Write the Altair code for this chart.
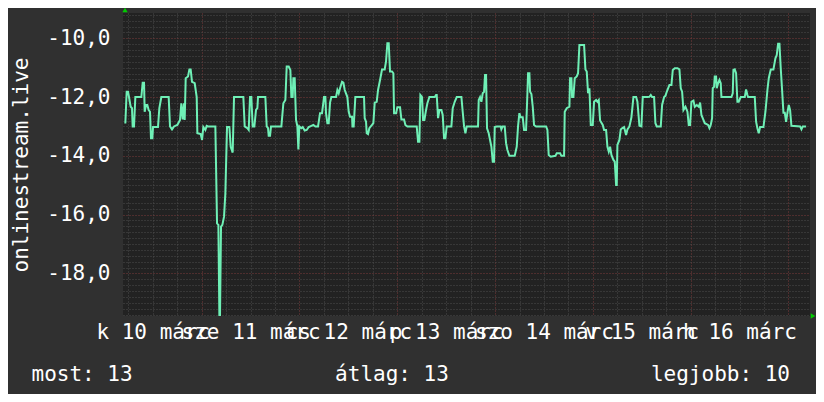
import altair as alt
import pandas as pd

# (hours since 10 March 00:00, rank shown negative)
seg_tue = [(5.25, -12.9), (5.58, -11.82), (5.91, -11.82), (6.15, -12.0), (6.56, -12.33), (6.89, -12.38),
           (7.05, -13.0), (7.38, -13.0), (7.71, -12.0), (9.18, -12.0), (9.51, -11.51), (9.84, -11.51),
           (10.0, -12.5), (10.33, -12.27), (10.65, -12.27), (10.98, -12.44), (11.31, -12.5), (11.55, -13.4),
           (11.88, -13.4), (12.05, -13.02), (13.27, -13.02), (13.6, -12.38), (14.09, -12.0), (15.89, -12.0),
           (16.22, -13.0), (16.71, -13.1), (17.2, -13.0), (18.02, -12.95), (18.67, -12.78), (19.0, -12.21),
           (19.33, -12.76), (19.66, -12.21), (19.82, -12.78), (20.07, -11.36), (20.64, -11.3), (20.97, -11.06),
           (21.29, -11.06), (21.62, -11.48), (22.28, -11.53), (22.77, -12.0), (22.93, -13.23), (23.75, -13.26),
           (24.08, -13.46), (24.40, -13.02), (24.89, -13.12), (25.22, -12.98), (25.55, -13.0), (27.35, -13.0),
           (27.76, -16.3), (28.09, -16.35), (28.33, -19.42), (28.49, -19.42), (28.74, -16.41), (29.07, -16.35),
           (29.48, -16.07), (29.80, -15.28), (30.21, -13.02), (30.79, -13.02), (31.11, -13.69), (31.60, -13.89),
           (31.93, -12.0)]
seg_wed = [(34.22, -12.0), (34.55, -13.0), (35.20, -13.06), (35.53, -13.12), (35.86, -12.0), (36.18, -12.0),
           (36.51, -13.0), (36.92, -13.0), (37.33, -12.44), (37.66, -12.38), (37.82, -12.0), (39.62, -12.0),
           (39.95, -13.0), (40.28, -13.06), (40.44, -13.32), (40.77, -13.32), (41.01, -13.0), (43.55, -13.0),
           (44.04, -12.21), (44.53, -12.1), (44.86, -10.96), (45.35, -10.96), (45.76, -11.08), (46.0, -12.0),
           (46.33, -12.0), (46.49, -11.36), (46.82, -11.36), (47.15, -12.78), (47.48, -13.0), (47.72, -13.78),
           (47.97, -13.0), (48.46, -13.06), (48.79, -13.02), (49.28, -13.14), (49.77, -13.12), (50.26, -13.02),
           (50.91, -12.98), (51.40, -12.95), (51.90, -13.0), (52.55, -13.0), (53.04, -12.55), (53.53, -12.55),
           (54.02, -12.0), (54.35, -12.0), (54.51, -12.55), (54.84, -12.89), (55.17, -12.89), (55.50, -12.19),
           (55.82, -12.0), (56.97, -12.0), (57.30, -11.76), (57.62, -11.87), (57.95, -11.7), (58.44, -11.48),
           (58.77, -11.51), (59.10, -11.76), (59.75, -12.0), (60.08, -12.5), (60.41, -12.67), (60.90, -12.67),
           (61.0, -13.0), (61.3, -13.0)]
seg_thu = [(61.71, -12.0), (63.84, -12.0), (64.0, -12.72), (64.33, -12.84), (64.50, -13.23), (64.82, -13.26),
           (65.15, -13.06), (65.80, -12.95), (66.13, -12.89), (66.46, -12.19), (66.95, -12.16), (67.28, -11.76),
           (67.77, -11.42), (67.93, -11.3), (68.26, -11.06), (68.91, -11.06), (69.24, -10.79), (69.57, -10.17),
           (69.90, -10.17), (70.22, -11.13), (70.71, -11.13), (71.04, -11.19), (71.21, -12.55), (71.70, -12.55),
           (72.02, -12.35), (72.68, -12.35), (73.01, -12.76), (73.66, -12.76), (73.99, -12.95), (74.48, -13.0),
           (76.77, -13.0), (77.10, -13.52), (77.43, -13.52), (77.67, -11.93), (78.08, -12.0), (78.33, -12.78),
           (78.65, -12.78), (79.06, -12.44), (79.39, -12.21), (79.88, -12.0), (81.19, -12.0), (81.52, -11.93),
           (81.68, -11.93), (82.01, -12.72), (82.34, -12.44), (82.83, -12.44), (83.15, -12.61), (83.48, -13.4),
           (83.81, -13.4), (84.14, -13.0), (85.28, -13.0), (85.61, -12.38), (86.10, -12.16), (86.59, -12.0),
           (87.74, -12.0), (88.06, -12.5), (88.39, -13.0), (88.72, -13.23), (89.04, -13.0)]
seg_fri = [(91.82, -13.0), (91.99, -12.1), (92.32, -12.0), (92.64, -12.16), (92.97, -11.87), (93.30, -11.82),
           (93.54, -11.25), (93.79, -11.25), (94.03, -13.06), (94.44, -13.23), (94.77, -13.46), (95.10, -13.69),
           (95.43, -14.2), (95.75, -14.2), (95.92, -13.02), (96.41, -13.0), (97.39, -13.0), (97.55, -13.1),
           (97.88, -13.0), (98.37, -13.0), (98.70, -13.57), (99.03, -13.8), (99.52, -14.0), (100.83, -14.0),
           (101.32, -13.69), (101.64, -13.0), (101.97, -12.55), (102.30, -12.69), (102.79, -12.69), (103.12, -13.12),
           (103.61, -13.12), (103.94, -11.87), (104.10, -11.19), (104.43, -11.19), (104.59, -11.82), (104.92, -11.9),
           (105.25, -12.33), (105.57, -12.95), (106.06, -13.0), (108.52, -13.0), (108.85, -13.12), (109.17, -13.97),
           (109.66, -14.03), (110.81, -14.0), (111.14, -13.91), (111.96, -13.91), (112.28, -14.0), (112.94, -14.0),
           (113.10, -12.5), (113.59, -12.38), (114.25, -12.33), (114.41, -11.36), (114.74, -11.36), (114.90, -12.0),
           (115.23, -12.0), (115.56, -11.36), (116.05, -11.3), (116.37, -11.19), (116.70, -10.23), (117.85, -10.23)]
seg_sat = [(118.18, -11.06), (118.50, -11.13), (118.83, -11.87), (119.16, -11.7), (119.49, -12.95), (119.98, -12.95),
           (120.30, -12.16), (120.80, -12.1), (121.12, -12.16), (121.45, -12.1), (121.78, -12.8), (122.43, -12.95),
           (122.76, -13.12), (123.25, -13.12), (123.58, -13.69), (123.91, -13.86), (124.23, -13.69), (124.56, -13.97),
           (125.05, -14.14), (125.38, -14.2), (125.71, -14.99), (125.87, -14.99), (126.03, -13.63), (126.52, -13.46),
           (126.85, -13.1), (127.18, -13.06), (127.67, -13.02), (128.16, -13.29), (128.49, -13.1), (128.98, -13.0),
           (129.47, -12.69), (129.96, -12.0), (130.62, -12.0), (130.94, -12.16), (131.43, -12.98), (131.92, -13.0),
           (132.25, -12.0), (133.40, -12.0), (133.89, -11.99), (134.22, -11.93), (134.54, -12.0), (135.03, -12.0),
           (135.36, -12.89), (135.69, -13.0), (136.67, -13.0), (137.0, -12.27), (137.49, -12.0), (137.82, -11.96),
           (138.14, -11.82), (138.80, -11.59), (139.29, -11.59), (139.62, -11.08), (140.11, -11.02), (140.76, -11.02),
           (141.25, -11.06), (141.58, -11.7), (141.91, -11.82), (142.24, -12.44), (142.73, -12.33), (143.22, -12.5),
           (143.54, -12.95), (143.87, -12.95), (144.20, -12.16), (144.69, -12.12), (145.02, -12.33), (145.51, -12.27),
           (146.0, -12.33), (146.33, -12.19), (146.65, -12.61)]
seg_sun = [(146.97, -12.72), (147.47, -12.89), (148.28, -12.95), (148.61, -13.06), (148.94, -12.95), (149.27, -12.72),
           (149.43, -11.7), (149.76, -11.65), (149.92, -11.3), (150.25, -11.3), (150.41, -11.7), (150.74, -11.53),
           (151.07, -11.42), (151.39, -11.53), (151.56, -12.0), (154.01, -12.0), (154.34, -11.87), (154.50, -11.08),
           (154.83, -11.06), (155.16, -11.19), (155.48, -12.16), (155.81, -12.16), (155.98, -12.1), (156.30, -12.0),
           (157.29, -12.0), (157.61, -11.74), (157.94, -11.93), (158.10, -12.0), (159.74, -12.0), (160.07, -12.84),
           (160.39, -13.06), (160.72, -13.23), (161.05, -13.02), (161.87, -13.02), (162.36, -12.5), (162.85, -11.76),
           (163.18, -11.36), (163.67, -11.06), (164.32, -11.06), (164.81, -10.68), (165.14, -10.57), (165.47, -10.19),
           (165.80, -10.19), (166.12, -11.02), (166.45, -11.76), (166.78, -12.53), (167.11, -12.53), (167.43, -12.84),
           (167.76, -12.53), (168.09, -12.27), (168.41, -12.44), (168.74, -12.98), (170.87, -13.0), (171.20, -13.1),
           (171.52, -13.0), (172.34, -13.0)]

day_labels = ["k 10 márc", "sze 11 márc", "cs 12 márc", "p 13 márc",
              "szo 14 márc", "v 15 márc", "h 16 márc"]
x_ticks = list(range(6, 173, 6))
y_ticks = [round(-19.4 + 0.2 * i, 1) for i in range(52)]
legend_items = ["most: 13", "átlag: 13", "legjobb: 10"]
axis_title = "onlinestream.live"

rows = seg_tue + seg_wed + seg_thu + seg_fri + seg_sat + seg_sun
df = pd.DataFrame(rows, columns=["hour", "rank"])

FONT = "DejaVu Sans Mono"
FS = 21
BG = "#303030"
PLOT = "#222222"
MINOR = "#4d4d4d"
MAJOR = "#7a3a3a"
LINE = "#6ff0b6"
ARROW = "#00cc00"

lab_arr = "[" + ",".join("'" + s + "'" for s in day_labels) + "]"
x_label_expr = f"datum.value % 24 == 12 ? {lab_arr}[floor(datum.value / 24)] : ''"
y_even = "abs(datum.value / 2 - round(datum.value / 2)) < 0.01"
y_label_expr = f"{y_even} ? '-' + replace(format(abs(datum.value), '.1f'), '.', ',') : ''"

x_axis = alt.Axis(
    values=x_ticks, title=None, labelExpr=x_label_expr, labelOverlap=False,
    labelFlush=False, labelBaseline="alphabetic", labelPadding=22, ticks=False, tickSize=0,
    domain=False, grid=True, gridDash=[1, 2], gridWidth=1,
    gridColor={"condition": {"test": "datum.value % 24 == 0", "value": MAJOR}, "value": MINOR},
    labelFont=FONT, labelFontSize=FS, labelColor="#ffffff",
)
y_axis = alt.Axis(
    values=y_ticks, title=axis_title, labelExpr=y_label_expr, labelOverlap=False,
    labelFlush=False, labelBaseline="middle", labelPadding=13, ticks=False, tickSize=0,
    domain=False, grid=True, gridDash=[1, 2], gridWidth=1,
    gridColor={"condition": {"test": y_even, "value": MAJOR}, "value": MINOR},
    labelFont=FONT, labelFontSize=FS, labelColor="#ffffff",
    titleFont=FONT, titleFontSize=FS, titleColor="#ffffff", titleFontWeight="normal",
    titleAngle=270, titleAlign="center", titleBaseline="alphabetic", titleX=-96, titleY=151.5,
)

line = alt.Chart(df).mark_line(color=LINE, strokeWidth=2).encode(
    x=alt.X("hour:Q", scale=alt.Scale(domain=[4.68, 173.3], nice=False, zero=False), axis=x_axis),
    y=alt.Y("rank:Q", scale=alt.Scale(domain=[-19.45, -9.14], nice=False, zero=False), axis=y_axis),
)

leg_df = pd.DataFrame({"t": legend_items})


def legend_text(i, align, xpos):
    return alt.Chart(leg_df.iloc[[i]]).mark_text(
        align=align, baseline="alphabetic", font=FONT, fontSize=FS, color="#ffffff"
    ).encode(text="t:N", x=alt.value(xpos), y=alt.value(368))


arrow_df = pd.DataFrame({"a": [1]})
arrow_up = alt.Chart(arrow_df).mark_point(shape="triangle-up", filled=True, size=28, color=ARROW, opacity=1).encode(
    x=alt.value(2), y=alt.value(-3))
arrow_right = alt.Chart(arrow_df).mark_point(shape="triangle-right", filled=True, size=28, color=ARROW, opacity=1).encode(
    x=alt.value(690), y=alt.value(303))

chart = alt.layer(
    line,
    legend_text(0, "left", -91.5),
    legend_text(1, "center", 269),
    legend_text(2, "right", 667),
    arrow_up,
    arrow_right,
).properties(
    width=687, height=303,
    padding={"left": 115, "top": 5, "right": 6, "bottom": 78},
    autosize=alt.AutoSizeParams(type="none"),
    background=BG,
).configure_view(fill=PLOT, strokeWidth=0)

chart.save("out.html", embed_options={"renderer": "svg", "actions": False})
